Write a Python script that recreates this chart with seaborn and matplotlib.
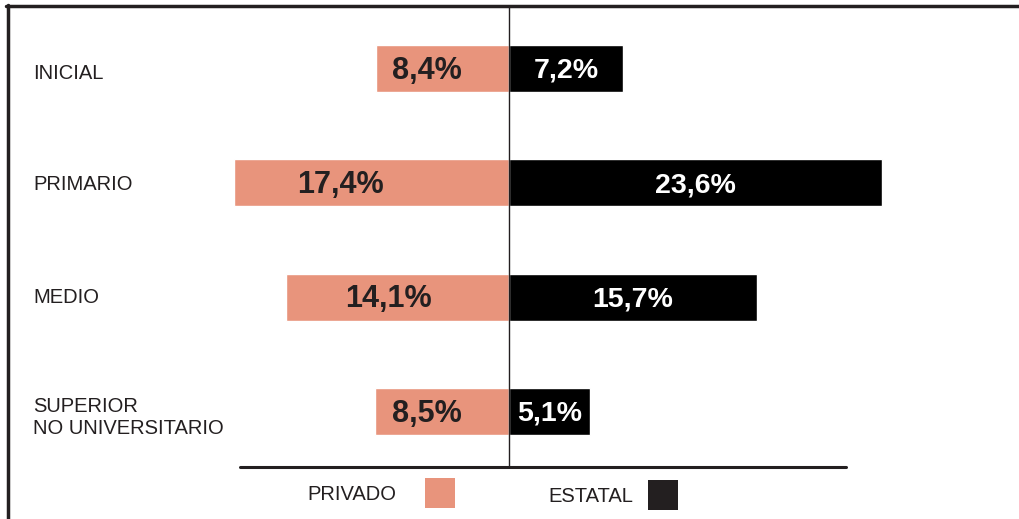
import matplotlib
matplotlib.use("Agg")
import matplotlib.pyplot as plt
from matplotlib.lines import Line2D
from matplotlib.patches import Rectangle
import seaborn as sns
import pandas as pd

niveles = ["INICIAL", "PRIMARIO", "MEDIO", "SUPERIOR\nNO UNIVERSITARIO"]
privado = [8.4, 17.4, 14.1, 8.5]
estatal = [7.2, 23.6, 15.7, 5.1]
privado_txt = ["8,4%", "17,4%", "14,1%", "8,5%"]
estatal_txt = ["7,2%", "23,6%", "15,7%", "5,1%"]

SALMON = "#e8947c"
DARK = "#231f20"

sns.set_style("white")
plt.rcParams["font.family"] = ["Liberation Sans", "DejaVu Sans"]

W, H = 1020, 519
fig = plt.figure(figsize=(W / 100, H / 100), dpi=100)
ax = fig.add_axes([0, 0, 1, 1])

df = pd.DataFrame({"nivel": niveles,
                   "privado": [-v for v in privado],
                   "estatal": estatal})
sns.barplot(data=df, y="nivel", x="privado", color=SALMON, width=0.41,
            saturation=1, orient="h", ax=ax)
sns.barplot(data=df, y="nivel", x="estatal", color="black", width=0.41,
            saturation=1, orient="h", ax=ax)

# pixel scale: centre at 509 px, ~15.8 px per percent point
ppu = 15.8
ax.set_xlim(-509 / ppu, (W - 509) / ppu)
ax.set_ylim((H - 68.5) / 114.3, -68.5 / 114.3)
ax.axis("off")

# value labels
priv_pos = [-5.2, -10.7, -7.6, -5.2]
for i, (t, x) in enumerate(zip(privado_txt, priv_pos)):
    ax.text(x, i + 0.02, t, ha="center", va="center", fontsize=22,
            fontweight="bold", color=DARK)
for i, (v, t) in enumerate(zip(estatal, estatal_txt)):
    ax.text(v / 2, i + 0.02, t, ha="center", va="center", fontsize=20.5,
            fontweight="bold", color="white")

# category labels
lab_dy = [0.048, 0.017, 0.0, 0.053]
for i, (lab, dy) in enumerate(zip(niveles, lab_dy)):
    ax.text(-476 / ppu, i + dy, lab, ha="left", va="center", fontsize=14.5,
            color=DARK, linespacing=1.2)

def px(x, y):
    return x / W, 1 - y / H

# frame
fig.add_artist(Line2D([px(6, 6)[0], 1.0], [px(6, 6)[1]] * 2, lw=2.5, color=DARK))
fig.add_artist(Line2D([px(8, 0)[0]] * 2, [px(0, 5)[1], 0], lw=2.5, color=DARK))
# centre line and baseline
fig.add_artist(Line2D([px(509, 0)[0]] * 2, [px(0, 7)[1], px(0, 467)[1]], lw=1, color=DARK))
fig.add_artist(Line2D([px(240, 0)[0], px(846, 0)[0]], [px(0, 467)[1]] * 2, lw=2.2, color=DARK))

# legend
fig.text(*px(307, 494), "PRIVADO", ha="left", va="center", fontsize=14.5, color=DARK)
x0, y0 = px(425, 508)
fig.add_artist(Rectangle((x0, y0), 30 / W, 30 / H, transform=fig.transFigure,
                         facecolor=SALMON, edgecolor="none"))
fig.text(*px(548, 496), "ESTATAL", ha="left", va="center", fontsize=14.5, color=DARK)
x0, y0 = px(648, 510)
fig.add_artist(Rectangle((x0, y0), 30 / W, 30 / H, transform=fig.transFigure,
                         facecolor=DARK, edgecolor="none"))

fig.savefig("out.png", dpi=100)
